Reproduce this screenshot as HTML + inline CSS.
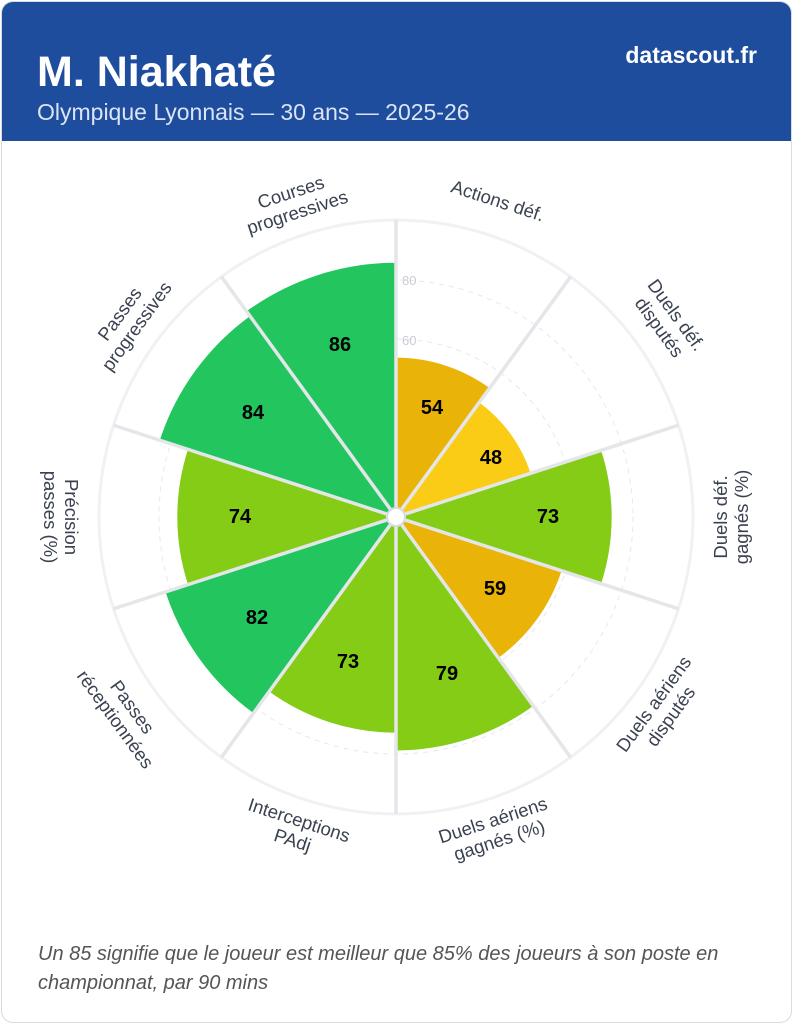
<!DOCTYPE html>
<html><head><meta charset="utf-8"><style>
body{margin:0;width:793px;height:1024px;background:#fff;font-family:"Liberation Sans",sans-serif;overflow:hidden}
.card{position:absolute;left:1px;top:1px;width:789px;height:1020px;border:1px solid #d8dbe0;border-radius:12px;overflow:hidden;background:#fff}
.hdr{position:absolute;left:0;top:0;width:789px;height:139px;background:#1e4d9e}
.t{position:absolute;left:35px;top:46px;font-size:43px;font-weight:bold;color:#fff}
.s{position:absolute;left:35px;top:97px;font-size:23px;color:#dbe4f5}
.b{position:absolute;right:34px;top:40px;font-size:23px;font-weight:bold;color:#fff}
.f{position:absolute;left:36px;top:938px;width:725px;font-size:20px;line-height:29px;font-style:italic;color:#555}
</style></head><body>
<div class="card">
<div class="hdr"><div class="t">M. Niakhaté</div><div class="s">Olympique Lyonnais — 30 ans — 2025-26</div><div class="b">datascout.fr</div></div>
<div class="f">Un 85 signifie que le joueur est meilleur que 85% des joueurs à son poste en championnat, par 90 mins</div>
</div>
<svg width="793" height="1024" style="position:absolute;left:0;top:0">
<circle cx="396" cy="517" r="297" fill="#fff" stroke="#f0f1f3" stroke-width="3"/>
<g fill="none" stroke="#e6e8eb" stroke-width="1" stroke-dasharray="5,5">
<circle cx="396" cy="517" r="237"/><circle cx="396" cy="517" r="178"/><circle cx="396" cy="517" r="119"/><circle cx="396" cy="517" r="59"/>
</g>
<g stroke="#fff" stroke-width="1.5">
<path d="M396 517L396 356.9A160.1 160.1 0 0 1 490.1 387.5Z" fill="#eab308"/>
<path d="M396 517L479.6 401.9A142.3 142.3 0 0 1 531.3 473Z" fill="#facc15"/>
<path d="M396 517L601.8 450.1A216.4 216.4 0 0 1 601.8 583.9Z" fill="#84cc16"/>
<path d="M396 517L562.3 571A174.9 174.9 0 0 1 498.8 658.5Z" fill="#eab308"/>
<path d="M396 517L533.7 706.5A234.2 234.2 0 0 1 396 751.2Z" fill="#84cc16"/>
<path d="M396 517L396 733.4A216.4 216.4 0 0 1 268.8 692.1Z" fill="#84cc16"/>
<path d="M396 517L253.1 713.7A243.1 243.1 0 0 1 164.8 592.1Z" fill="#22c55e"/>
<path d="M396 517L187.3 584.8A219.4 219.4 0 0 1 187.3 449.2Z" fill="#84cc16"/>
<path d="M396 517L159.1 440A249.1 249.1 0 0 1 249.6 315.5Z" fill="#22c55e"/>
<path d="M396 517L246.1 310.7A255 255 0 0 1 396 262Z" fill="#22c55e"/>
</g>
<g stroke="#e4e6ea" stroke-width="3.5">
<line x1="396" y1="517" x2="396" y2="220"/><line x1="396" y1="517" x2="570.6" y2="276.7"/>
<line x1="396" y1="517" x2="678.5" y2="425.2"/><line x1="396" y1="517" x2="678.5" y2="608.8"/>
<line x1="396" y1="517" x2="570.6" y2="757.3"/><line x1="396" y1="517" x2="396" y2="814"/>
<line x1="396" y1="517" x2="221.4" y2="757.3"/><line x1="396" y1="517" x2="113.5" y2="608.8"/>
<line x1="396" y1="517" x2="113.5" y2="425.2"/><line x1="396" y1="517" x2="221.4" y2="276.7"/>
</g>
<circle cx="396" cy="517" r="9" fill="#fff" stroke="#d8dbe0" stroke-width="2"/>
<g font-size="13" fill="#c8ccd2"><text x="402" y="285">80</text><text x="402" y="345">60</text></g>
<g font-size="20" font-weight="bold" fill="#000" text-anchor="middle" dominant-baseline="central">
<text x="432" y="408">54</text><text x="491" y="458">48</text><text x="548" y="517">73</text>
<text x="495" y="589">59</text><text x="447" y="674">79</text><text x="348" y="662">73</text>
<text x="257" y="618">82</text><text x="240" y="517">74</text><text x="253" y="413">84</text><text x="340" y="345">86</text>
</g>
<g font-size="18.5" fill="#3a4150" text-anchor="middle">
<text transform="translate(498,200) rotate(18)" y="7">Actions déf.</text>
<text transform="translate(668,321) rotate(54)"><tspan x="0" y="-4">Duels déf.</tspan><tspan x="0" y="17">disputés</tspan></text>
<text transform="translate(731,517) rotate(-90)"><tspan x="0" y="-4">Duels déf.</tspan><tspan x="0" y="17">gagnés (%)</tspan></text>
<text transform="translate(662,710) rotate(-54)"><tspan x="0" y="-4">Duels aériens</tspan><tspan x="0" y="17">disputés</tspan></text>
<text transform="translate(496,830) rotate(-18)"><tspan x="0" y="-4">Duels aériens</tspan><tspan x="0" y="17">gagnés (%)</tspan></text>
<text transform="translate(296,830) rotate(18)"><tspan x="0" y="-4">Interceptions</tspan><tspan x="0" y="17">PAdj</tspan></text>
<text transform="translate(124,713) rotate(54)"><tspan x="0" y="-4">Passes</tspan><tspan x="0" y="17">réceptionnées</tspan></text>
<text transform="translate(61,517) rotate(90)"><tspan x="0" y="-4">Précision</tspan><tspan x="0" y="17">passes (%)</tspan></text>
<text transform="translate(128,320) rotate(-54)"><tspan x="0" y="-4">Passes</tspan><tspan x="0" y="17">progressives</tspan></text>
<text transform="translate(294,202) rotate(-18)"><tspan x="0" y="-4">Courses</tspan><tspan x="0" y="17">progressives</tspan></text>
</g>
</svg>
</body></html>
